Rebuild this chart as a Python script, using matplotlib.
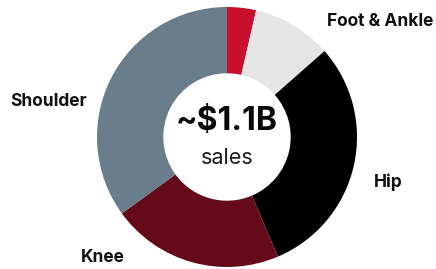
import matplotlib
matplotlib.use("Agg")
import matplotlib.pyplot as plt

# segments clockwise from 12 o'clock
segments = ["Other", "Foot & Ankle", "Hip", "Knee", "Shoulder"]
shares = [3.6, 9.9, 30.1, 21.4, 35.0]
colors = ["#C8102E", "#E5E5E5", "#000000", "#640A19", "#697E8A"]

# label text and where it sits (figure pixels, origin top-left)
label_text = ["Foot & Ankle", "Hip", "Knee", "Shoulder"]
label_xy = [(380, 21), (388, 182), (103, 257), (49, 102)]

W, H = 436, 269
fig = plt.figure(figsize=(W / 100, H / 100), dpi=100)
fig.patch.set_facecolor("white")

cx, cy, r = 227, 137, 130
ax = fig.add_axes([(cx - r) / W, 1 - (cy + r) / H, 2 * r / W, 2 * r / H])
ax.pie(shares, colors=colors, startangle=90, counterclock=False,
       wedgeprops=dict(width=0.51, edgecolor="none"))
ax.set_aspect("equal")
ax.set_xlim(-1, 1)
ax.set_ylim(-1, 1)
ax.axis("off")

ax.text(0, 0.12, "~$1.1B", ha="center", va="center", fontsize=23,
        fontweight="bold", family="Inter", color="#0a0a0a")
ax.text(0, -0.16, "sales", ha="center", va="center", fontsize=15.5,
        family="Inter", color="#1a1a1a")

for txt, (x, y) in zip(label_text, label_xy):
    fig.text(x / W, 1 - y / H, txt, ha="center", va="center", fontsize=12.5,
             fontweight="bold", family="Inter", color="#111111")

plt.savefig("out.png", dpi=100, facecolor="white")
